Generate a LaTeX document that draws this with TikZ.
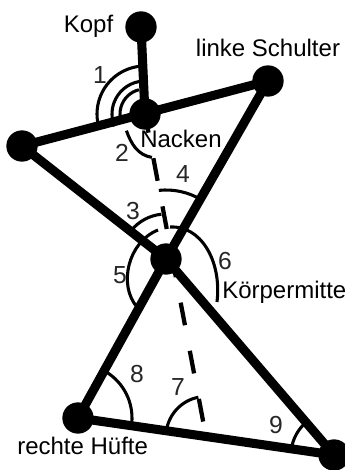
\documentclass[tikz,border=0pt]{standalone}
\usepackage{fontspec}
\setmainfont{Liberation Sans}
\usetikzlibrary{calc}

\begin{document}
\begin{tikzpicture}[x=0.75pt, y=0.75pt,
  joint/.style={circle, fill=black, inner sep=0pt, minimum size=23.5pt},
  bone/.style={line width=6.8pt},
  angl/.style={line width=2.3pt},
  spine/.style={line width=3.2pt, dash pattern=on 17.25pt off 19.5pt, dash phase=3pt},
  lbl/.style={font=\fontsize{18}{20}\selectfont, inner sep=0pt},
  num/.style={font=\fontsize{18.5}{20}\selectfont, text=black!85, inner sep=0pt},
]
  \useasboundingbox (0,0) rectangle (345,470);

  % Gelenke
  \node[joint] (kopf) at (141,443) {};
  \node[joint] (nacken) at (145,356) {};
  \node[joint] (lschulter) at (268,389) {};
  \node[joint] (rschulter) at (22,324) {};
  \node[joint] (mitte) at (166,211) {};
  \node[joint] (rhuefte) at (78,52) {};
  \node[joint] (lhuefte) at (334,15) {};
  \coordinate (hmitte) at ($(rhuefte)!0.5!(lhuefte)$);

  % Koerper
  \draw[bone] (kopf.center) -- (nacken.center);
  \draw[bone] (rschulter.center) -- (lschulter.center);
  \draw[bone] (rschulter.center) -- (mitte.center) -- (lhuefte.center);
  \draw[bone] (lschulter.center) -- (mitte.center) -- (rhuefte.center);
  \draw[bone] (rhuefte.center) -- (lhuefte.center);
  \draw[spine] (nacken.center) -- (hmitte);

  % Winkel
  \draw[angl] ([shift={(97:48)}]nacken.center) arc[start angle=97, end angle=194, radius=48];
  \draw[angl] ([shift={(100:33)}]nacken.center) arc[start angle=100, end angle=202, radius=33];
  \draw[angl] ([shift={(104:25)}]nacken.center) arc[start angle=104, end angle=200, radius=25];
  \draw[angl] ([shift={(222:25)}]nacken.center) to[out=-70, in=170] ([shift={(279:44)}]nacken.center);
  \draw[angl] ([shift={(96:45)}]mitte.center) arc[start angle=96, end angle=140, radius=45];
  \draw[angl] ([shift={(59:69)}]mitte.center) arc[start angle=59, end angle=96, radius=69];
  \draw[angl] (158,240) .. controls (128,228) and (118,185) .. (137,163);
  \draw[angl] (170,243) .. controls (200,245) and (222,210) .. (217,168);
  \draw[angl] ([shift={(101:40)}]hmitte) arc[start angle=101, end angle=172, radius=40];
  \draw[angl] ([shift={(-6:54)}]rhuefte.center) arc[start angle=-6, end angle=59, radius=54];
  \draw[angl] ([shift={(130:43)}]lhuefte.center) arc[start angle=130, end angle=172, radius=43];

  % Beschriftung
  \node[lbl, anchor=base] (tkopf) at (88.5,437) {Kopf};
  \node[lbl, anchor=base] (tschulter) at (268,413) {linke Schulter};
  \node[lbl, anchor=base] (tnacken) at (181,322) {Nacken};
  \node[lbl, anchor=base west] (tmitte) at (222,171) {Körpermitte};
  \node[lbl, anchor=base west] (thuefte) at (17,15) {rechte Hüfte};

  \node[num] (w1) at (100,395) {1};
  \node[num] (w2) at (122,317) {2};
  \node[num] (w3) at (133,259) {3};
  \node[num] (w4) at (183,296) {4};
  \node[num] (w5) at (120,195) {5};
  \node[num] (w6) at (225,209) {6};
  \node[num] (w7) at (178,83) {7};
  \node[num] (w8) at (137,96) {8};
  \node[num] (w9) at (276,45) {9};
\end{tikzpicture}
\end{document}
